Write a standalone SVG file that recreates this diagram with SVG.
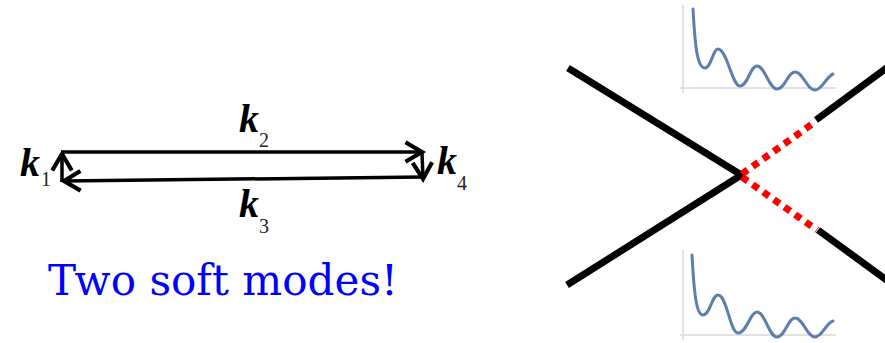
<svg xmlns="http://www.w3.org/2000/svg" width="885" height="343" viewBox="0 0 885 343">
<style>
.vec{stroke:#000;stroke-width:3.5;fill:none;marker-end:url(#chev)}
.k{font-family:"Liberation Serif","DejaVu Serif",serif;font-style:italic;font-weight:bold;font-size:40px;fill:#000}
.sub{font-family:"Liberation Serif","DejaVu Serif",serif;font-size:20px;fill:#222}
.blk{stroke:#000;stroke-width:7;fill:none}
.red{stroke:#ff0000;stroke-width:7;fill:none;stroke-dasharray:7 6}
.axis{stroke:#d9d9d9;stroke-width:1.5;fill:none}
.curve{stroke:#5d7fb0;stroke-width:3;fill:none;stroke-linecap:round}
</style>
<defs>
<marker id="chev" markerUnits="userSpaceOnUse" markerWidth="30" markerHeight="30" refX="0" refY="0" viewBox="-16 -10 20 20" orient="auto" overflow="visible">
<path d="M-11,-6.5 L0,0 L-11,6.5" stroke="#000" stroke-width="2.8" fill="none" stroke-linejoin="miter"/>
</marker>
</defs>
<rect width="885" height="343" fill="#fff"/>
<g id="connectors">
<line class="vec" x1="61" y1="152" x2="422" y2="152"/>
<line class="vec" x1="422" y1="153" x2="423" y2="179"/>
<line class="vec" x1="423" y1="177" x2="64" y2="181"/>
<line class="vec" x1="62" y1="182" x2="62" y2="154"/>
</g>
<g id="k1"><text class="k" x="20" y="176">k</text><text class="sub" x="41" y="186">1</text></g>
<g id="k2"><text class="k" x="239" y="132">k</text><text class="sub" x="259" y="147">2</text></g>
<g id="k3"><text class="k" x="239" y="217">k</text><text class="sub" x="259" y="233">3</text></g>
<g id="k4"><text class="k" x="437" y="174">k</text><text class="sub" x="457" y="190">4</text></g>
<g id="caption"><text x="48" y="295" font-family="DejaVu Serif, serif" font-size="42" fill="#0000ff" textLength="350" lengthAdjust="spacingAndGlyphs">Two soft modes!</text></g>
<g id="cross">
<line class="blk" x1="568" y1="68" x2="743" y2="176"/>
<line class="blk" x1="567" y1="285" x2="743" y2="174"/>
<line class="red" x1="742" y1="174" x2="815" y2="122"/>
<line class="blk" x1="816" y1="120" x2="888" y2="67"/>
<line class="red" x1="742" y1="177" x2="817" y2="230"/>
<line class="blk" x1="818" y1="230" x2="888" y2="281"/>
</g>
<g id="chart-top">
<line class="axis" x1="683" y1="5" x2="683" y2="93"/>
<line class="axis" x1="680" y1="88" x2="836" y2="88"/>
<path class="curve" d="M693,9 C695,45 697,68 705,68 C711,68 713,49 718,49 C727,49 732,86 740,86 C748,86 750,66 757,66 C765,66 769,89 777,89 C785,89 788,72 795,72 C803,72 807,90 815,90 C822,90 826,77 833,74"/>
</g>
<g id="chart-bottom">
<line class="axis" x1="683" y1="250" x2="683" y2="340"/>
<line class="axis" x1="680" y1="335" x2="836" y2="335"/>
<path class="curve" d="M692,255 C694,291 696,315 703,315 C710,315 712,295 718,295 C727,295 730,333 738,333 C747,333 750,312 757,312 C765,312 769,337 777,337 C785,337 788,318 795,318 C803,318 807,337 815,337 C822,337 826,323 833,321"/>
</g>
</svg>
